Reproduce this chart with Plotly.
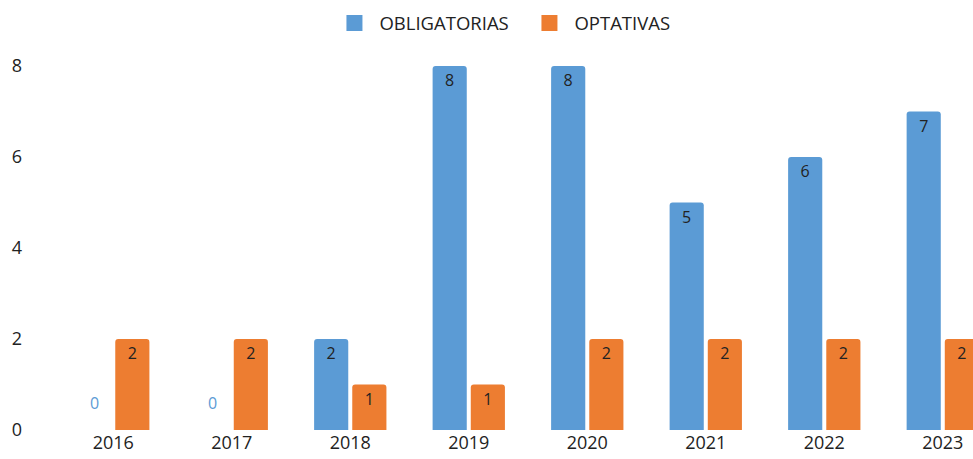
import plotly.graph_objects as go

years = ["2016", "2017", "2018", "2019", "2020", "2021", "2022", "2023"]
obligatorias = [0, 0, 2, 8, 8, 5, 6, 7]
optativas = [2, 2, 1, 1, 2, 2, 2, 2]
series_names = ["OBLIGATORIAS", "OPTATIVAS"]

BLUE = "#5B9BD5"
ORANGE = "#ED7D31"
FONT = "Open Sans"

def labels(vals):
    return [str(v) if v != 0 else "" for v in vals]

fig = go.Figure()
for name, vals, col in [(series_names[0], obligatorias, BLUE), (series_names[1], optativas, ORANGE)]:
    fig.add_trace(go.Bar(
        name=name, x=years, y=vals, marker_color=col, marker_line_width=0,
        text=labels(vals), textposition="inside", insidetextanchor="end",
        textfont=dict(color="#222222", size=16, family=FONT), textangle=0,
        showlegend=False,
    ))
# legend swatches (larger squares like the original)
for name, col in [(series_names[0], BLUE), (series_names[1], ORANGE)]:
    fig.add_trace(go.Scatter(
        name=name, x=[None], y=[None], mode="markers",
        marker=dict(symbol="square", size=20, color=col), showlegend=True,
    ))

annotations = []
for i, v in enumerate(obligatorias):
    if v == 0:
        annotations.append(dict(
            x=i, y=0, xref="x", yref="y", text=str(v), showarrow=False,
            xshift=-19, yshift=27, font=dict(color=BLUE, size=16, family=FONT)))

fig.update_layout(
    width=973, height=459,
    margin=dict(l=54, r=0, t=66, b=29),
    paper_bgcolor="white", plot_bgcolor="white",
    barmode="group", bargap=0.356, bargroupgap=0.105, barcornerradius=3,
    font=dict(family=FONT, size=18, color="#222222"),
    uniformtext=dict(minsize=10, mode="show"),
    legend=dict(orientation="h", x=0.539, xanchor="center", xref="container",
                y=0.99, yref="container", yanchor="top",
                font=dict(size=18.5, family=FONT), itemwidth=40, entrywidth=140),
    annotations=annotations,
    xaxis=dict(range=[-0.5, 7.255], showgrid=False, showline=False, ticks="",
               tickfont=dict(size=18, family=FONT)),
    yaxis=dict(range=[0, 8], dtick=2, showgrid=False, zeroline=False, showline=False,
               ticks="", ticklabelstandoff=31, tickfont=dict(size=18, family=FONT)),
)

fig.write_html("out.html")
